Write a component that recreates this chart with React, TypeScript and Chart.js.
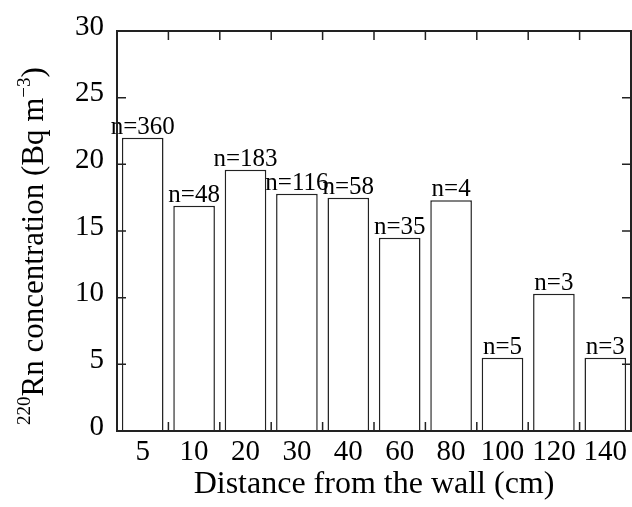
import React, { useEffect, useRef } from "react";
import { Chart, registerables } from "chart.js";

Chart.register(...registerables);

const SERIF = '"Liberation Serif", "Times New Roman", Times, serif';

const categories = ["5", "10", "20", "30", "40", "60", "80", "100", "120", "140"];
const concentration = [22.0, 16.9, 19.6, 17.8, 17.5, 14.5, 17.3, 5.5, 10.3, 5.5];
const sampleCounts = ["n=360", "n=48", "n=183", "n=116", "n=58", "n=35", "n=4", "n=5", "n=3", "n=3"];
const yMin = 0;
const yMax = 30;
const yStep = 5;
const xTitle = "Distance from the wall (cm)";
const yTitleParts = [
  { text: "220", sup: true },
  { text: "Rn concentration (Bq m", sup: false },
  { text: "\u22123", sup: true },
  { text: ")", sup: false },
];

const framePlugin = {
  id: "framePlugin",
  afterDatasetsDraw(chart: any) {
    const { ctx, chartArea: a, scales } = chart;
    const xs = scales.x;
    const ys = scales.y;
    ctx.save();

    // n labels above bars
    ctx.font = `25px ${SERIF}`;
    ctx.fillStyle = "#000";
    ctx.textAlign = "center";
    ctx.textBaseline = "alphabetic";
    const meta = chart.getDatasetMeta(0);
    meta.data.forEach((bar: any, i: number) => {
      ctx.fillText(sampleCounts[i], bar.x, bar.y - 4);
    });

    // frame
    ctx.strokeStyle = "#222";
    ctx.lineWidth = 2;
    ctx.strokeRect(a.left, a.top, a.right - a.left, a.bottom - a.top);

    // inward ticks
    const L = 9;
    ctx.lineWidth = 1.5;
    ctx.beginPath();
    ys.ticks.forEach((t: any) => {
      if (t.value <= yMin || t.value >= yMax) return;
      const py = ys.getPixelForValue(t.value);
      ctx.moveTo(a.left, py);
      ctx.lineTo(a.left + L, py);
      ctx.moveTo(a.right, py);
      ctx.lineTo(a.right - L, py);
    });
    for (let i = 0; i < categories.length - 1; i++) {
      const px = (xs.getPixelForValue(i) + xs.getPixelForValue(i + 1)) / 2;
      ctx.moveTo(px, a.top);
      ctx.lineTo(px, a.top + L);
      ctx.moveTo(px, a.bottom);
      ctx.lineTo(px, a.bottom - L);
    }
    ctx.stroke();

    // y title with superscripts
    const mainFont = `31px ${SERIF}`;
    const supFont = `19px ${SERIF}`;
    let total = 0;
    const widths = yTitleParts.map((p) => {
      ctx.font = p.sup ? supFont : mainFont;
      const w = ctx.measureText(p.text).width;
      total += w;
      return w;
    });
    const cx = ys.left + 43;
    const cy = (a.top + a.bottom) / 2 + 15;
    ctx.translate(cx, cy);
    ctx.rotate(-Math.PI / 2);
    ctx.textAlign = "left";
    ctx.textBaseline = "alphabetic";
    let xPos = -total / 2;
    yTitleParts.forEach((p, i) => {
      ctx.font = p.sup ? supFont : mainFont;
      ctx.fillText(p.text, xPos, p.sup ? -13 : 0);
      xPos += widths[i];
    });

    ctx.restore();
  },
};

export default function App() {
  const ref = useRef<HTMLCanvasElement | null>(null);

  useEffect(() => {
    document.body.style.margin = "0";
    const canvas = ref.current;
    if (!canvas) return;
    const chart = new Chart(canvas, {
      type: "bar",
      data: {
        labels: categories,
        datasets: [
          {
            data: concentration,
            backgroundColor: "#ffffff",
            borderColor: "#222",
            borderWidth: 1.5,
            categoryPercentage: 1,
            barPercentage: 0.81,
          },
        ],
      },
      options: {
        animation: false,
        responsive: false,
        maintainAspectRatio: false,
        layout: { padding: { top: 31, right: 1, left: 0, bottom: 0 } },
        plugins: {
          legend: { display: false },
          tooltip: { enabled: false },
        },
        scales: {
          x: {
            grid: { display: false, drawTicks: false },
            border: { display: false },
            ticks: {
              font: { family: SERIF, size: 29 },
              color: "#000",
              padding: 4,
              maxRotation: 0,
              autoSkip: false,
            },
            title: {
              display: true,
              text: xTitle,
              font: { family: SERIF, size: 32 },
              color: "#000",
              padding: { top: 0, bottom: 3 },
            },
            afterFit(s: any) {
              s.height = 76;
            },
          },
          y: {
            min: yMin,
            max: yMax,
            grid: { display: false, drawTicks: false },
            border: { display: false },
            ticks: {
              stepSize: yStep,
              font: { family: SERIF, size: 29 },
              color: "#000",
              padding: 13,
              labelOffset: -4,
            },
            afterFit(s: any) {
              s.width = 117;
            },
          },
        },
      },
      plugins: [framePlugin],
    });
    return () => chart.destroy();
  }, []);

  return (
    <div style={{ width: 632, height: 507 }}>
      <canvas ref={ref} width={632} height={507} style={{ display: "block" }} />
    </div>
  );
}
